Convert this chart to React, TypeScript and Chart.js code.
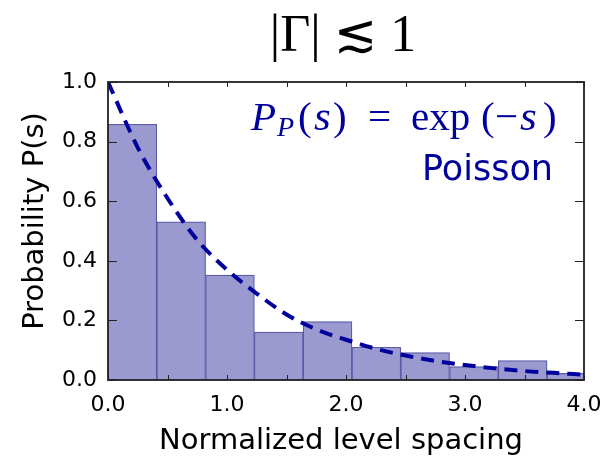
import React, { useEffect, useRef } from "react";
import { Chart, registerables } from "chart.js";

Chart.register(...registerables);

// ---- data ----
const binLeftEdges = [0.0, 0.41, 0.82, 1.23, 1.64, 2.05, 2.46, 2.87, 3.28, 3.69];
const binWidth = 0.41;
const binHeights = [0.858, 0.531, 0.352, 0.161, 0.196, 0.11, 0.092, 0.045, 0.065, 0.022];

const curveS = [0, 0.25, 0.5, 0.75, 1.0, 1.25, 1.5, 1.75, 2.0, 2.25, 2.5, 2.75, 3.0, 3.25, 3.5, 3.75, 4.0];
const curveP = [1.0, 0.78, 0.61, 0.47, 0.37, 0.29, 0.22, 0.17, 0.135, 0.105, 0.082, 0.064, 0.05, 0.039, 0.03, 0.024, 0.018];

const xTickValues = [0, 0.5, 1.0, 1.5, 2.0, 2.5, 3.0, 3.5, 4.0];
const xTickLabels = ["0.0", "", "1.0", "", "2.0", "", "3.0", "", "4.0"];
const yTickValues = [0, 0.2, 0.4, 0.6, 0.8, 1.0];
const yTickLabels = ["0.0", "0.2", "0.4", "0.6", "0.8", "1.0"];

const titleText = "|Γ| ≲ 1";
const xAxisTitle = "Normalized level spacing";
const yAxisTitle = "Probability P(s)";
const curveLabel = "Poisson";

const BLUE = "#00009c";
const SERIF = '"Liberation Serif", "DejaVu Serif", "DejaVu Sans", serif';
const SANS = '"DejaVu Sans", sans-serif';

type Piece = { t: string; x: number; size: number; italic: boolean; dy: number };
const formulaPieces: Piece[] = [
  { t: "P", x: 251, size: 41, italic: true, dy: 0 },
  { t: "P", x: 277, size: 28, italic: true, dy: 6 },
  { t: "(", x: 298, size: 41, italic: false, dy: 0 },
  { t: "s", x: 314, size: 43, italic: true, dy: 0 },
  { t: ")", x: 333, size: 41, italic: false, dy: 0 },
  { t: "=", x: 368, size: 41, italic: false, dy: 0 },
  { t: "exp", x: 411, size: 41, italic: false, dy: 0 },
  { t: "(", x: 481, size: 41, italic: false, dy: 0 },
  { t: "−", x: 495, size: 41, italic: false, dy: 0 },
  { t: "s", x: 520, size: 43, italic: true, dy: 0 },
  { t: ")", x: 543, size: 41, italic: false, dy: 0 },
];

const overlay = {
  id: "overlay",
  afterDatasetsDraw(chart: any) {
    const { ctx, chartArea: a, scales } = chart;
    const x = scales.x;
    const y = scales.y;
    ctx.save();
    ctx.strokeStyle = "#222";
    ctx.lineWidth = 1;
    ctx.beginPath();
    xTickValues.forEach((v) => {
      const px = Math.round(x.getPixelForValue(v)) + 0.5;
      ctx.moveTo(px, a.bottom);
      ctx.lineTo(px, a.bottom - 5);
      ctx.moveTo(px, a.top);
      ctx.lineTo(px, a.top + 5);
    });
    yTickValues.forEach((v) => {
      const py = Math.round(y.getPixelForValue(v)) + 0.5;
      ctx.moveTo(a.left, py);
      ctx.lineTo(a.left + 9, py);
      ctx.moveTo(a.right, py);
      ctx.lineTo(a.right - 9, py);
    });
    ctx.stroke();
    ctx.lineWidth = 1.8;
    ctx.strokeStyle = "#222";
    ctx.strokeRect(a.left, a.top, a.right - a.left, a.bottom - a.top);
    ctx.restore();
  },
  afterDraw(chart: any) {
    const { ctx } = chart;
    ctx.save();
    // title
    ctx.fillStyle = "#000";
    ctx.font = `52px ${SERIF}`;
    ctx.textAlign = "center";
    ctx.textBaseline = "alphabetic";
    ctx.fillText(titleText, 343, 51);

    // formula
    ctx.fillStyle = BLUE;
    ctx.textAlign = "left";
    formulaPieces.forEach((p) => {
      ctx.font = `${p.italic ? "italic " : ""}${p.size}px ${SERIF}`;
      ctx.fillText(p.t, p.x, 130 + p.dy);
    });

    // Poisson label
    ctx.font = `35px ${SANS}`;
    ctx.textAlign = "right";
    ctx.fillText(curveLabel, 553, 180);

    // axis titles
    ctx.fillStyle = "#000";
    ctx.font = `29px ${SANS}`;
    ctx.textAlign = "center";
    ctx.fillText(xAxisTitle, 341, 449);
    ctx.translate(43, 221);
    ctx.rotate(-Math.PI / 2);
    ctx.fillText(yAxisTitle, 0, 0);
    ctx.restore();
  },
};

export default function App() {
  const ref = useRef<HTMLCanvasElement | null>(null);

  useEffect(() => {
    if (!ref.current) return;
    const bars = binLeftEdges.map((e, i) => ({ x: e + binWidth / 2, y: binHeights[i] }));
    const curve = curveS.map((s, i) => ({ x: s, y: curveP[i] }));

    const chart = new Chart(ref.current, {
      type: "bar",
      data: {
        datasets: [
          {
            type: "line",
            data: curve,
            borderColor: BLUE,
            borderWidth: 4,
            borderDash: [13, 8],
            borderCapStyle: "butt",
            pointRadius: 0,
            fill: false,
            cubicInterpolationMode: "monotone",
            order: 0,
          } as any,
          {
            type: "bar",
            data: bars,
            backgroundColor: "#9a9ad0",
            borderColor: "#5a5aa8",
            borderWidth: 1.2,
            borderSkipped: false,
            barPercentage: 1,
            categoryPercentage: 1,
            order: 1,
          } as any,
        ],
      },
      options: {
        responsive: false,
        animation: false,
        devicePixelRatio: 1,
        layout: { padding: { left: 0, right: 17, top: 82, bottom: 0 } },
        plugins: { legend: { display: false }, tooltip: { enabled: false }, title: { display: false } },
        scales: {
          x: {
            type: "linear",
            min: 0,
            max: 4,
            offset: false,
            grid: { display: false, drawTicks: false },
            border: { display: false },
            afterBuildTicks: (s: any) => {
              s.ticks = xTickValues.map((v) => ({ value: v }));
            },
            afterFit: (s: any) => {
              s.height = 82;
              s.paddingLeft = 0;
              s.paddingRight = 0;
            },
            ticks: {
              autoSkip: false,
              maxRotation: 0,
              padding: 12,
              color: "#000",
              font: { family: "DejaVu Sans", size: 22 },
              callback: (_v: any, i: number) => xTickLabels[i],
            },
          },
          y: {
            type: "linear",
            min: 0,
            max: 1,
            grid: { display: false, drawTicks: false },
            border: { display: false },
            afterBuildTicks: (s: any) => {
              s.ticks = yTickValues.map((v) => ({ value: v }));
            },
            afterFit: (s: any) => {
              s.width = 108;
              s.paddingTop = 0;
              s.paddingBottom = 0;
            },
            ticks: {
              autoSkip: false,
              padding: 11,
              color: "#000",
              font: { family: "DejaVu Sans", size: 22 },
              callback: (_v: any, i: number) => yTickLabels[i],
            },
          },
        },
      } as any,
      plugins: [overlay],
    });
    return () => chart.destroy();
  }, []);

  return (
    <div style={{ position: "absolute", left: 0, top: 0, width: 601, height: 462, background: "#fff" }}>
      <canvas ref={ref} width={601} height={462} />
    </div>
  );
}
